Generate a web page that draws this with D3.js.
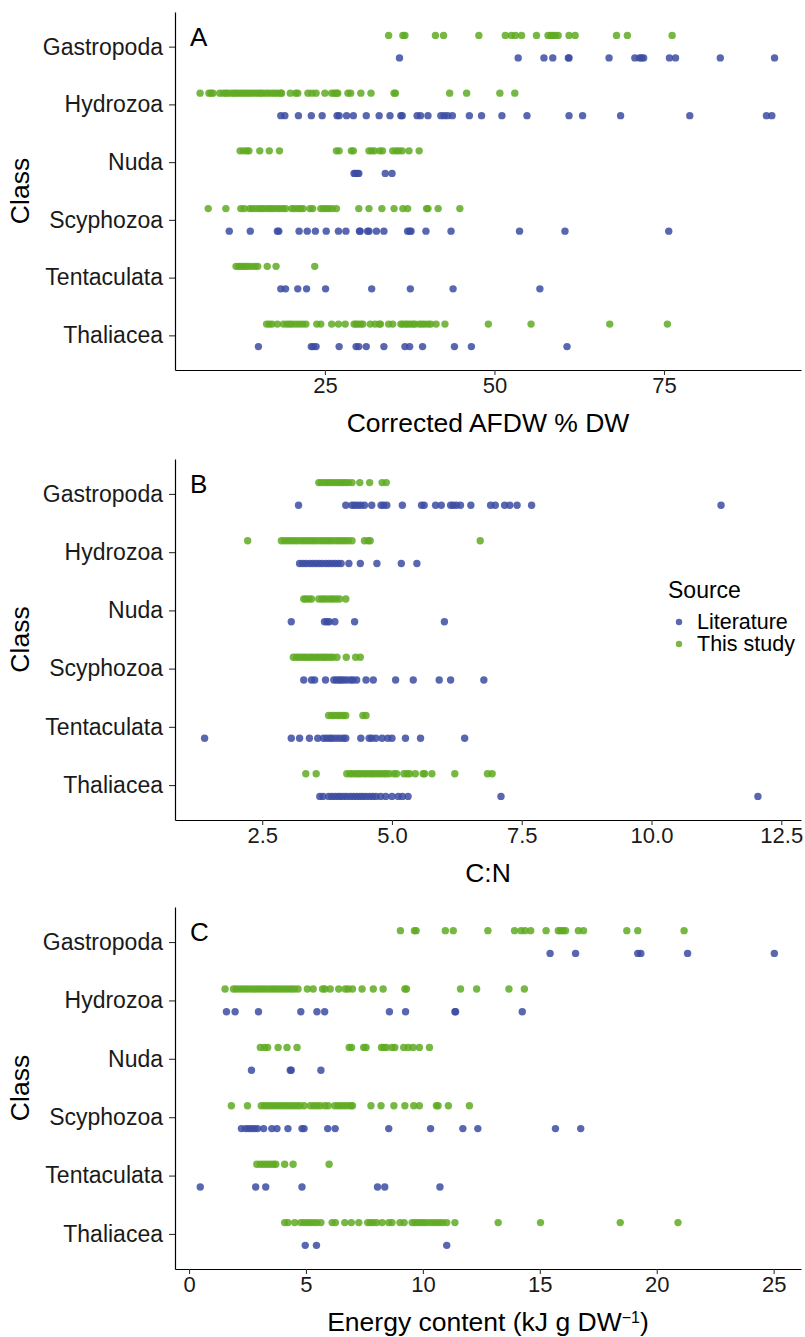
<!DOCTYPE html>
<html>
<head>
<meta charset="utf-8">
<script src="https://cdn.jsdelivr.net/npm/d3@7"></script>
<style>
body { margin: 0; background: #fff; }
text { font-family: Arial, "Liberation Sans", sans-serif; }
</style>
</head>
<body>
<script>
var classes = ["Gastropoda", "Hydrozoa", "Nuda", "Scyphozoa", "Tentaculata", "Thaliacea"];
var sources = ["Literature", "This study"];
var colours = ["#3c4ca2", "#5faa22"];

// A: corrected AFDW % DW, one list per class (same order as classes)
var afdwTicks = [25, 50, 75];
var afdwLiterature = [
	[36.0, 53.5, 57.3, 58.6, 60.9, 61.0, 66.9, 70.7, 71.4, 71.7, 72.0, 75.8, 76.7, 83.3, 91.3],
	[18.5, 19.1, 21.1, 23.0, 24.6, 26.8, 27.1, 28.2, 29.2, 31.1, 33.0, 34.6, 36.2, 36.4, 38.6, 39.1, 40.2, 42.1, 42.6, 43.1, 43.8, 46.3, 48.1, 51.1, 54.8, 61.0, 63.0, 68.6, 78.8, 90.1, 90.9],
	[29.3, 29.5, 29.8, 30.0, 33.9, 34.9],
	[10.9, 14.0, 18.0, 18.2, 21.2, 22.4, 23.6, 25.2, 27.0, 28.1, 30.1, 30.2, 31.3, 31.5, 32.6, 33.7, 37.2, 37.5, 37.7, 39.9, 43.6, 53.7, 60.4, 75.7],
	[18.5, 19.2, 21.0, 22.3, 25.1, 31.9, 37.6, 43.9, 56.7],
	[15.2, 23.0, 23.3, 23.7, 27.1, 29.6, 30.0, 31.1, 33.7, 36.8, 37.5, 39.4, 44.1, 46.6, 60.7]
];
var afdwStudy = [
	[34.4, 36.5, 36.8, 41.3, 42.5, 47.7, 51.6, 52.5, 53.1, 54.0, 56.2, 57.9, 58.3, 58.6, 59.0, 59.4, 61.0, 61.9, 68.0, 69.6, 76.2],
	[6.6, 7.9, 8.2, 8.5, 9.5, 10.0, 10.4, 10.7, 11.2, 11.6, 11.9, 12.3, 12.7, 13.1, 13.5, 13.9, 14.3, 14.7, 15.1, 15.5, 15.8, 16.3, 16.7, 17.2, 17.6, 18.0, 18.5, 18.6, 19.9, 20.7, 21.0, 22.5, 23.1, 23.7, 25.0, 26.0, 26.4, 26.7, 26.9, 28.4, 28.8, 30.3, 31.8, 35.2, 35.4, 43.4, 45.9, 50.8, 53.0],
	[12.5, 13.0, 13.5, 13.8, 15.4, 16.8, 18.3, 26.7, 27.1, 28.9, 29.2, 31.5, 31.9, 32.3, 33.1, 33.5, 35.0, 35.5, 35.9, 36.4, 37.4, 38.9],
	[7.8, 10.4, 12.6, 13.1, 13.9, 14.3, 14.8, 15.3, 15.7, 16.1, 16.6, 17.0, 17.4, 17.9, 18.3, 18.8, 19.2, 20.1, 20.5, 21.0, 21.4, 21.8, 22.8, 23.2, 24.4, 24.8, 25.2, 25.6, 26.1, 26.7, 30.0, 31.5, 33.4, 35.2, 36.5, 37.2, 40.0, 40.2, 41.7, 44.9],
	[11.9, 12.3, 12.6, 13.0, 13.3, 13.7, 14.2, 14.7, 15.1, 16.5, 17.8, 23.5],
	[16.4, 16.8, 17.2, 18.0, 18.9, 19.4, 19.8, 20.2, 20.7, 21.2, 21.7, 22.2, 23.8, 24.4, 26.0, 27.0, 28.0, 29.3, 29.6, 29.9, 30.3, 30.6, 31.7, 32.4, 33.0, 33.2, 34.4, 35.0, 36.2, 36.5, 36.9, 37.2, 37.6, 38.0, 38.3, 38.9, 39.3, 39.7, 40.2, 40.6, 41.4, 42.7, 49.1, 55.4, 67.0, 75.5]
];

// B: C:N ratio
var cnTicks = [2.5, 5, 7.5, 10, 12.5];
var cnLiterature = [
	[3.20, 4.11, 4.23, 4.28, 4.34, 4.40, 4.47, 4.61, 4.79, 4.84, 4.90, 5.20, 5.57, 5.62, 5.84, 5.95, 6.13, 6.18, 6.24, 6.32, 6.52, 6.90, 6.99, 7.17, 7.27, 7.41, 7.69, 11.34],
	[3.22, 3.28, 3.34, 3.41, 3.47, 3.53, 3.59, 3.65, 3.72, 3.78, 3.84, 3.90, 3.96, 4.02, 4.17, 4.39, 4.71, 5.18, 5.48],
	[3.06, 3.70, 3.75, 3.79, 3.90, 4.28, 6.01],
	[3.30, 3.45, 3.51, 3.72, 3.88, 3.93, 3.98, 4.02, 4.07, 4.13, 4.20, 4.25, 4.32, 4.50, 4.64, 5.07, 5.41, 5.91, 6.13, 6.77],
	[1.39, 3.06, 3.22, 3.41, 3.57, 3.68, 3.74, 3.80, 3.85, 3.92, 3.99, 4.06, 4.11, 4.40, 4.56, 4.61, 4.69, 4.81, 4.92, 5.00, 5.26, 5.55, 6.40],
	[3.61, 3.67, 3.78, 3.84, 3.90, 3.96, 4.01, 4.07, 4.13, 4.20, 4.26, 4.32, 4.38, 4.44, 4.50, 4.57, 4.63, 4.69, 4.78, 4.88, 5.00, 5.12, 5.20, 5.31, 7.10, 12.05]
];
var cnStudy = [
	[3.59, 3.64, 3.70, 3.75, 3.80, 3.85, 3.90, 3.96, 4.01, 4.06, 4.11, 4.16, 4.23, 4.38, 4.57, 4.81, 4.89],
	[2.22, 2.87, 2.93, 2.99, 3.05, 3.11, 3.17, 3.24, 3.30, 3.36, 3.42, 3.48, 3.54, 3.61, 3.67, 3.73, 3.79, 3.85, 3.92, 3.98, 4.04, 4.10, 4.16, 4.23, 4.47, 4.54, 4.58, 6.70],
	[3.30, 3.34, 3.40, 3.45, 3.59, 3.65, 3.70, 3.76, 3.82, 3.87, 3.93, 3.99, 4.11],
	[3.10, 3.16, 3.21, 3.27, 3.32, 3.37, 3.43, 3.48, 3.54, 3.59, 3.65, 3.70, 3.75, 3.81, 3.86, 3.94, 4.12, 4.30, 4.39],
	[3.78, 3.84, 3.89, 3.95, 4.00, 4.06, 4.11, 4.44, 4.50],
	[3.34, 3.54, 4.13, 4.19, 4.24, 4.30, 4.35, 4.40, 4.46, 4.51, 4.57, 4.62, 4.67, 4.73, 4.78, 4.84, 4.89, 4.95, 5.04, 5.09, 5.23, 5.29, 5.34, 5.45, 5.60, 5.63, 5.77, 6.21, 6.84, 6.93]
];

// C: energy content kJ g DW-1
var energyTicks = [0, 5, 10, 15, 20, 25];
var energyLiterature = [
	[15.44, 16.53, 19.19, 19.32, 21.32, 25.03],
	[1.60, 1.97, 2.97, 4.78, 5.47, 5.80, 8.57, 9.26, 11.37, 11.40, 14.25],
	[2.67, 4.33, 4.37, 5.64],
	[2.24, 2.42, 2.55, 2.67, 2.80, 2.93, 3.19, 3.54, 3.76, 4.23, 4.83, 4.92, 5.93, 6.25, 8.54, 10.33, 11.71, 12.35, 15.67, 16.75],
	[0.48, 2.85, 3.28, 4.83, 8.06, 8.37, 10.73],
	[4.97, 5.45, 11.02]
];
var energyStudy = [
	[9.04, 9.64, 9.71, 10.96, 11.30, 12.78, 13.92, 14.20, 14.37, 14.61, 15.27, 15.79, 15.89, 15.99, 16.10, 16.65, 16.87, 18.72, 19.19, 21.17],
	[1.54, 1.90, 2.02, 2.16, 2.29, 2.43, 2.57, 2.71, 2.85, 2.98, 3.12, 3.26, 3.40, 3.54, 3.67, 3.81, 3.95, 4.09, 4.23, 4.37, 4.50, 4.66, 5.06, 5.31, 5.71, 5.81, 6.04, 6.40, 6.68, 6.81, 6.99, 7.40, 7.88, 8.30, 9.23, 9.30, 11.61, 12.30, 13.68, 14.34],
	[3.05, 3.23, 3.36, 3.81, 4.19, 4.62, 6.85, 6.95, 7.47, 7.57, 8.23, 8.33, 8.44, 8.68, 8.80, 9.18, 9.37, 9.58, 9.85, 10.28],
	[1.81, 2.50, 3.09, 3.23, 3.36, 3.50, 3.64, 3.78, 3.92, 4.05, 4.19, 4.33, 4.47, 4.61, 4.74, 4.92, 5.19, 5.33, 5.47, 5.61, 5.81, 5.95, 6.23, 6.37, 6.50, 6.64, 6.78, 6.92, 6.99, 7.78, 8.21, 8.76, 9.23, 9.61, 9.85, 10.58, 10.65, 11.09, 11.99],
	[2.90, 3.05, 3.19, 3.33, 3.47, 3.61, 3.71, 4.09, 4.45, 5.99],
	[4.09, 4.23, 4.52, 4.78, 4.92, 5.06, 5.19, 5.33, 5.47, 5.64, 6.12, 6.26, 6.66, 6.94, 7.26, 7.64, 7.76, 7.88, 8.02, 8.26, 8.54, 8.68, 9.02, 9.20, 9.54, 9.66, 9.78, 9.90, 10.02, 10.14, 10.30, 10.44, 10.58, 10.71, 10.85, 11.02, 11.37, 13.22, 15.03, 18.44, 20.91]
];

var svg = d3.select("body").append("svg")
	.attr("width", 805)
	.attr("height", 1337);

var left = 175, right = 801;

var panels = [
	{ letter: "A", title: "Corrected AFDW % DW", top: 12, bottom: 370, domain: [2.9, 95.2],
	  ticks: afdwTicks, format: d3.format("d"), lit: afdwLiterature, study: afdwStudy },
	{ letter: "B", title: "C:N", top: 459, bottom: 820, domain: [0.82, 12.88],
	  ticks: cnTicks, format: d3.format(".1f"), lit: cnLiterature, study: cnStudy },
	{ letter: "C", title: "Energy content (kJ g DW", sup: "\u22121", top: 907, bottom: 1269, domain: [-0.6, 26.17],
	  ticks: energyTicks, format: d3.format("d"), lit: energyLiterature, study: energyStudy }
];

function flatten(series) {
	var out = [];
	series.forEach(function(vals, c) {
		vals.forEach(function(v) { out.push({ cls: classes[c], value: v }); });
	});
	return out;
}

function drawPanel(p) {
	var g = svg.append("g");
	var x = d3.scaleLinear().domain(p.domain).range([left, right]);
	var y = d3.scalePoint().domain(classes).range([p.top, p.bottom]).padding(0.6);
	var dodge = y.step() * 0.195;

	// literature sits below the class line, this study above
	[p.lit, p.study].forEach(function(series, s) {
		g.append("g").selectAll("circle")
			.data(flatten(series))
			.enter().append("circle")
			.attr("cx", function(d) { return x(d.value); })
			.attr("cy", function(d) { return y(d.cls) + (s == 0 ? dodge : -dodge); })
			.attr("r", 3.7)
			.attr("fill", colours[s])
			.attr("fill-opacity", 0.85);
	});

	var xAxis = g.append("g")
		.attr("transform", "translate(0," + p.bottom + ")")
		.call(d3.axisBottom(x).tickValues(p.ticks).tickFormat(p.format).tickSize(5).tickSizeOuter(0).tickPadding(2));

	var yAxis = g.append("g")
		.attr("transform", "translate(" + left + ",0)")
		.call(d3.axisLeft(y).tickSize(6).tickSizeOuter(0).tickPadding(6));

	[xAxis, yAxis].forEach(function(a) {
		a.select(".domain").attr("stroke", "#000").attr("stroke-width", 1.2);
		a.selectAll(".tick line").attr("stroke", "#333").attr("stroke-width", 1.1);
		a.selectAll(".tick text").attr("fill", "#1a1a1a").style("font-family", "Arial, 'Liberation Sans', sans-serif");
	});
	xAxis.selectAll(".tick text").style("font-size", "22px");
	yAxis.selectAll(".tick text").style("font-size", "23px");

	// panel letter
	g.append("text")
		.attr("x", 190)
		.attr("y", p.top + 34)
		.style("font-size", "26px")
		.text(p.letter);

	// axis titles
	var xt = g.append("text")
		.attr("x", (left + right) / 2)
		.attr("y", p.bottom + 62)
		.attr("text-anchor", "middle")
		.style("font-size", "26.5px")
		.text(p.title);
	if (p.sup) {
		xt.append("tspan").attr("baseline-shift", "super").style("font-size", "16px").text(p.sup);
		xt.append("tspan").text(")");
	}

	g.append("text")
		.attr("transform", "translate(29," + (p.top + p.bottom) / 2 + ") rotate(-90)")
		.attr("text-anchor", "middle")
		.style("font-size", "26.5px")
		.text("Class");
}

panels.forEach(drawPanel);

// legend inside panel B
var legend = svg.append("g");
legend.append("text")
	.attr("x", 668)
	.attr("y", 598)
	.style("font-size", "23px")
	.text("Source");

legend.selectAll(".key")
	.data(sources)
	.enter().append("circle")
	.attr("cx", 679)
	.attr("cy", function(d, i) { return 622 + i * 22; })
	.attr("r", 3.2)
	.attr("fill", function(d, i) { return colours[i]; })
	.attr("fill-opacity", 0.85);

legend.selectAll(".label")
	.data(sources)
	.enter().append("text")
	.attr("x", 697)
	.attr("y", function(d, i) { return 629 + i * 22; })
	.style("font-size", "21.5px")
	.text(function(d) { return d; });
</script>
</body>
</html>
